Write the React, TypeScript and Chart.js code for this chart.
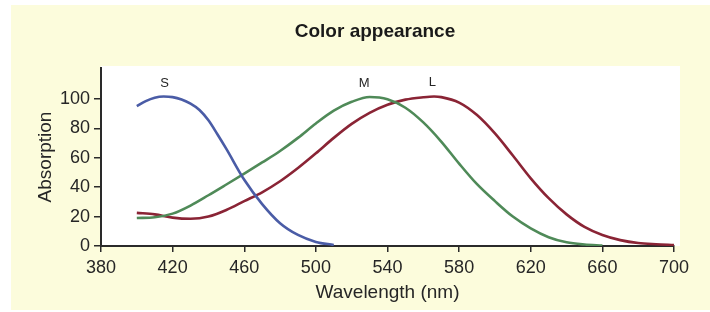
import React, { useEffect, useRef } from "react";
import { Chart, registerables } from "chart.js";

Chart.register(...registerables);

const TITLE = "Color appearance";
const X_TITLE = "Wavelength (nm)";
const Y_TITLE = "Absorption";

const X_MIN = 380;
const X_MAX = 700;
const X_STEP = 40;
const Y_MIN = 0;
const Y_MAX = 121;
const Y_TICK_MAX = 100;
const Y_STEP = 20;

const S_WAVELENGTHS = [400, 405, 410, 415, 420, 425, 430, 435, 440, 445, 450, 460, 470, 480, 490, 500, 510];
const S_VALUES = [95, 98.5, 100.8, 101.6, 101.2, 99.6, 96.8, 92.5, 85.5, 76, 66, 45, 28.5, 15.5, 7.5, 2.8, 0.7];

const M_WAVELENGTHS = [400, 410, 420, 430, 440, 450, 460, 470, 480, 490, 500, 510, 520, 530, 540, 550, 560, 570, 580, 590, 600, 610, 620, 630, 640, 650, 660];
const M_VALUES = [19, 19.5, 22, 27.5, 34.5, 41.8, 49.2, 56.8, 64.6, 73.5, 83.3, 92, 98, 101.3, 99.8, 94, 84, 71, 56, 42, 30.5, 20, 12, 6, 2.5, 1, 0.3];

const L_WAVELENGTHS = [400, 410, 420, 430, 440, 450, 460, 470, 480, 490, 500, 510, 520, 530, 540, 550, 560, 566, 570, 580, 590, 600, 610, 620, 630, 640, 650, 660, 670, 680, 690, 700];
const L_VALUES = [22.5, 21.5, 19.3, 18.5, 20, 24.5, 30.5, 36.5, 44, 53, 63, 73.5, 83, 90.5, 96, 99.5, 101.1, 101.6, 101.2, 97.5, 89, 76.5, 61.5, 46, 32.5, 21.5, 13, 7.5, 4, 2, 1.2, 0.7];

const CONE_NAMES = ["S", "M", "L"];
const CONE_LABEL_X = [415.5, 527, 565];
const CONE_LABEL_Y = [110.5, 110.5, 111.2];
const CONE_COLORS = ["#4a5ca6", "#4f8a58", "#8a2435"];

const FONT = "'Liberation Sans', Arial, Helvetica, sans-serif";
const TEXT = "#262626";
const BG = "#fcfcdc";

const toPoints = (xs: number[], ys: number[]) => xs.map((x, i) => ({ x, y: ys[i] }));

const decor = {
  id: "decor",
  beforeDraw(chart: any) {
    const { ctx, chartArea: a } = chart;
    ctx.save();
    ctx.fillStyle = "#ffffff";
    ctx.fillRect(0, 0, chart.width, chart.height);
    ctx.fillStyle = BG;
    ctx.fillRect(11, 5, chart.width - 11, chart.height - 7);
    ctx.fillStyle = "#ffffff";
    ctx.fillRect(a.left, a.top - 2, a.right - a.left + 6, a.bottom - a.top + 2);
    ctx.restore();
  },
  afterDraw(chart: any) {
    const { ctx } = chart;
    const xs = chart.scales.x;
    const ys = chart.scales.y;
    ctx.save();
    ctx.fillStyle = "#1a1a1a";
    ctx.font = `bold 19px ${FONT}`;
    ctx.textAlign = "center";
    ctx.textBaseline = "middle";
    ctx.fillText(TITLE, 375, 32);
    ctx.fillStyle = TEXT;
    ctx.font = `13px ${FONT}`;
    CONE_NAMES.forEach((n, i) => {
      ctx.fillText(n, xs.getPixelForValue(CONE_LABEL_X[i]), ys.getPixelForValue(CONE_LABEL_Y[i]));
    });
    ctx.restore();
  },
};

export default function App() {
  const ref = useRef<HTMLCanvasElement>(null);
  useEffect(() => {
    document.body.style.margin = "0";
    const canvas = ref.current!;
    const chart = new Chart(canvas, {
      type: "line",
      data: {
        datasets: [
          { label: "S", data: toPoints(S_WAVELENGTHS, S_VALUES), borderColor: CONE_COLORS[0] },
          { label: "M", data: toPoints(M_WAVELENGTHS, M_VALUES), borderColor: CONE_COLORS[1] },
          { label: "L", data: toPoints(L_WAVELENGTHS, L_VALUES), borderColor: CONE_COLORS[2] },
        ].map((d) => ({ ...d, borderWidth: 2.6, pointRadius: 0, cubicInterpolationMode: "monotone" as const, fill: false })),
      },
      options: {
        responsive: false,
        animation: false,
        layout: { padding: { left: 0, right: 36, top: 68, bottom: 0 } },
        plugins: { legend: { display: false }, tooltip: { enabled: false }, title: { display: false } },
        scales: {
          x: {
            type: "linear",
            min: X_MIN,
            max: X_MAX,
            afterFit: (s: any) => {
              s.height = 66;
            },
            ticks: { stepSize: X_STEP, color: TEXT, font: { family: FONT, size: 18 }, padding: 5, maxRotation: 0 },
            grid: { drawOnChartArea: false, drawTicks: true, tickLength: 6, color: "#2a2a2a", lineWidth: 1.5 },
            border: { display: true, color: "#2a2a2a", width: 2 },
            title: { display: true, text: X_TITLE, color: TEXT, font: { family: FONT, size: 19 }, padding: { top: 0, bottom: 8 } },
          },
          y: {
            type: "linear",
            min: Y_MIN,
            max: Y_MAX,
            afterFit: (s: any) => {
              s.width = 101;
            },
            afterBuildTicks: (s: any) => {
              s.ticks = s.ticks.filter((t: any) => t.value <= Y_TICK_MAX && t.value % Y_STEP === 0);
            },
            ticks: { stepSize: Y_STEP, color: TEXT, font: { family: FONT, size: 18 }, padding: 4 },
            grid: { drawOnChartArea: false, drawTicks: true, tickLength: 7, color: "#2a2a2a", lineWidth: 1.5 },
            border: { display: true, color: "#2a2a2a", width: 2 },
            title: { display: true, text: Y_TITLE, color: TEXT, font: { family: FONT, size: 19 }, padding: { top: 34, bottom: 0 } },
          },
        },
      },
      plugins: [decor],
    });
    return () => chart.destroy();
  }, []);
  return (
    <div style={{ width: 710, height: 312 }}>
      <canvas ref={ref} width={710} height={312} style={{ display: "block" }} />
    </div>
  );
}
